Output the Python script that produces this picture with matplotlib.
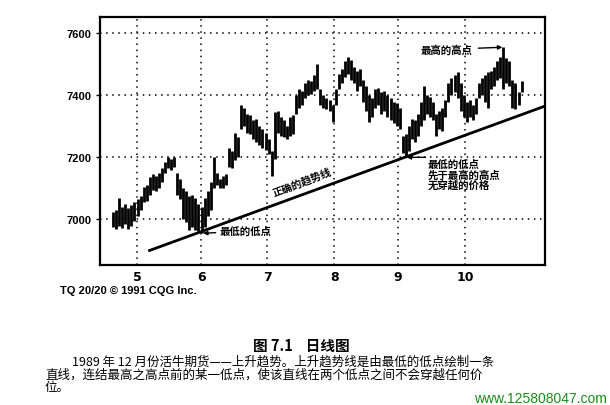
import matplotlib

matplotlib.use("Agg")
import matplotlib.pyplot as plt

CJK = ["Noto Sans CJK SC", "DejaVu Sans"]

# daily high / low, Dec 1989 live cattle (trading-day index 0..134)
HIGHS = [
    7025, 7030, 7070, 7040, 7050, 7035, 7045, 7055, 7065, 7075,
    7105, 7110, 7135, 7145, 7140, 7150, 7165, 7185, 7200, 7195,
    7200, 7150, 7130, 7100, 7090, 7075, 7080, 7070, 7050, 7040,
    7070, 7090, 7120, 7200, 7150, 7130, 7140, 7145, 7230, 7220,
    7280, 7265, 7370, 7360, 7340, 7335, 7320, 7325, 7300, 7290,
    7280, 7260, 7220, 7345, 7350, 7330, 7320, 7300, 7330, 7335,
    7400, 7420, 7415, 7440, 7450, 7445, 7465, 7500, 7420, 7400,
    7390, 7385, 7370, 7420, 7470, 7485, 7510, 7525, 7515, 7490,
    7480, 7485, 7450, 7430, 7400, 7390, 7420, 7425, 7410, 7415,
    7400, 7390, 7380, 7375, 7360, 7270, 7275, 7300, 7325, 7320,
    7340, 7380, 7430, 7400, 7395, 7380, 7340, 7350, 7360, 7385,
    7440, 7455, 7465, 7475, 7440, 7400, 7380, 7385, 7370, 7390,
    7440, 7455, 7465, 7475, 7480, 7490, 7510, 7525, 7555, 7520,
    7510, 7450, 7440, 7410, 7445,
]
LOWS = [
    6975, 6968, 6980, 6972, 6985, 6968, 6980, 6995, 7010, 7030,
    7055, 7060, 7080, 7095, 7090, 7100, 7120, 7150, 7165, 7160,
    7170, 7080, 7065, 7000, 6990, 6965, 6975, 6965, 6962, 6955,
    6975, 7010, 7030, 7100, 7110, 7100, 7100, 7110, 7170, 7165,
    7190, 7200, 7290, 7300, 7280, 7275, 7260, 7250, 7240, 7230,
    7225, 7210, 7140, 7195, 7280, 7270, 7265, 7260, 7270, 7275,
    7340, 7360, 7370, 7390, 7400, 7405, 7415, 7420, 7370, 7360,
    7355, 7350, 7315, 7370, 7420, 7440, 7460, 7470, 7450, 7440,
    7415, 7430, 7380, 7350, 7315, 7330, 7360, 7370, 7340, 7350,
    7330, 7320, 7310, 7300, 7290, 7215, 7200, 7220, 7260, 7250,
    7270, 7300, 7320, 7340, 7330, 7320, 7270, 7290, 7285, 7330,
    7380, 7400, 7410, 7390, 7350, 7330, 7315, 7330, 7320, 7340,
    7390, 7400, 7380, 7360, 7420, 7430, 7450, 7455, 7420, 7440,
    7430, 7360, 7355, 7370, 7410,
]
MONTH_DAYS = [7.9, 28.9, 50.5, 72.5, 93.4, 115.4]
MONTH_LABELS = ["5", "6", "7", "8", "9", "10"]
Y_TICKS = [7000, 7200, 7400, 7600]
TREND_DAYS = [11.5, 141.6]
TREND_VALUES = [6898, 7365]

days = list(range(len(HIGHS)))

fig = plt.figure(figsize=(6.1, 4.06), dpi=100)
ax = fig.add_axes([0.164, 0.345, 0.729, 0.611])

ax.vlines(days, LOWS, HIGHS, color="black", lw=2.0)
ax.plot(TREND_DAYS, TREND_VALUES, color="black", lw=2.0, solid_capstyle="butt")

ax.set_xlim(-4.3, 141.6)
ax.set_ylim(6853, 7653)
ax.set_xticks(MONTH_DAYS)
ax.set_xticklabels(MONTH_LABELS, fontsize=9, fontweight="bold")
ax.set_yticks(Y_TICKS)
ax.set_yticklabels([str(v) for v in Y_TICKS], fontsize=8, fontweight="bold",
                   family="Liberation Sans")
ax.tick_params(axis="x", length=0, pad=4)
ax.tick_params(axis="y", direction="out", length=3, width=1, pad=3)
ax.grid(True, color="black", lw=1.1, linestyle=(0, (1, 3)))
for s in ax.spines.values():
    s.set_linewidth(1.6)

# annotations tied to the data extremes
lo_i = min(range(60), key=lambda i: LOWS[i])
hi_i = max(days, key=lambda i: HIGHS[i])
lo2_i = min(range(90, 105), key=lambda i: LOWS[i])

ax.annotate("最低的低点", xy=(lo_i + 0.5, LOWS[lo_i]), xytext=(35, 6962),
            fontsize=7.5, fontweight="bold", family=CJK, va="center",
            arrowprops=dict(arrowstyle="-|>", color="black", lw=1,
                            mutation_scale=6, shrinkA=1, shrinkB=0))
ax.text(62, 7122, "正确的趋势线", rotation=21, fontsize=7.5, fontweight="bold",
        family=CJK, ha="center", va="center")
ax.annotate("最高的高点", xy=(hi_i - 0.3, HIGHS[hi_i]), xytext=(109.5, 7548),
            fontsize=7.5, fontweight="bold", family=CJK, ha="center", va="center",
            arrowprops=dict(arrowstyle="-|>", color="black", lw=1,
                            mutation_scale=6, shrinkA=2, shrinkB=0))
ax.annotate("", xy=(lo2_i + 0.3, LOWS[lo2_i]), xytext=(102.5, LOWS[lo2_i]),
            arrowprops=dict(arrowstyle="-|>", color="black", lw=1,
                            mutation_scale=6, shrinkA=0, shrinkB=0))
for k, line in enumerate(["最低的低点", "先于最高的高点", "无穿越的价格"]):
    ax.text(103.3, 7179 - k * 34, line, fontsize=7.5, fontweight="bold",
            family=CJK, va="center")

fig.text(60 / 610, 1 - 291 / 406, "TQ 20/20 © 1991 CQG Inc.", fontsize=8,
         fontweight="bold", family="Liberation Sans", va="center")
fig.text(301 / 610, 1 - 346 / 406, "图 7.1    日线图", fontsize=10.5,
         family=CJK, fontweight="bold", ha="center", va="center")
fig.text(72 / 610, 1 - 362 / 406,
         "1989 年 12 月份活牛期货——上升趋势。上升趋势线是由最低的低点绘制一条",
         fontsize=9, family=CJK, va="center")
fig.text(45 / 610, 1 - 375 / 406,
         "直线，连结最高之高点前的某一低点，使该直线在两个低点之间不会穿越任何价",
         fontsize=9, family=CJK, va="center")
fig.text(45 / 610, 1 - 388 / 406, "位。", fontsize=9, family=CJK, va="center")
fig.text(607 / 610, 1 - 399 / 406, "www.125808047.com", fontsize=10,
         family="Liberation Sans", color="#1a8c1a", ha="right", va="center")

fig.savefig("out.png", dpi=100)
